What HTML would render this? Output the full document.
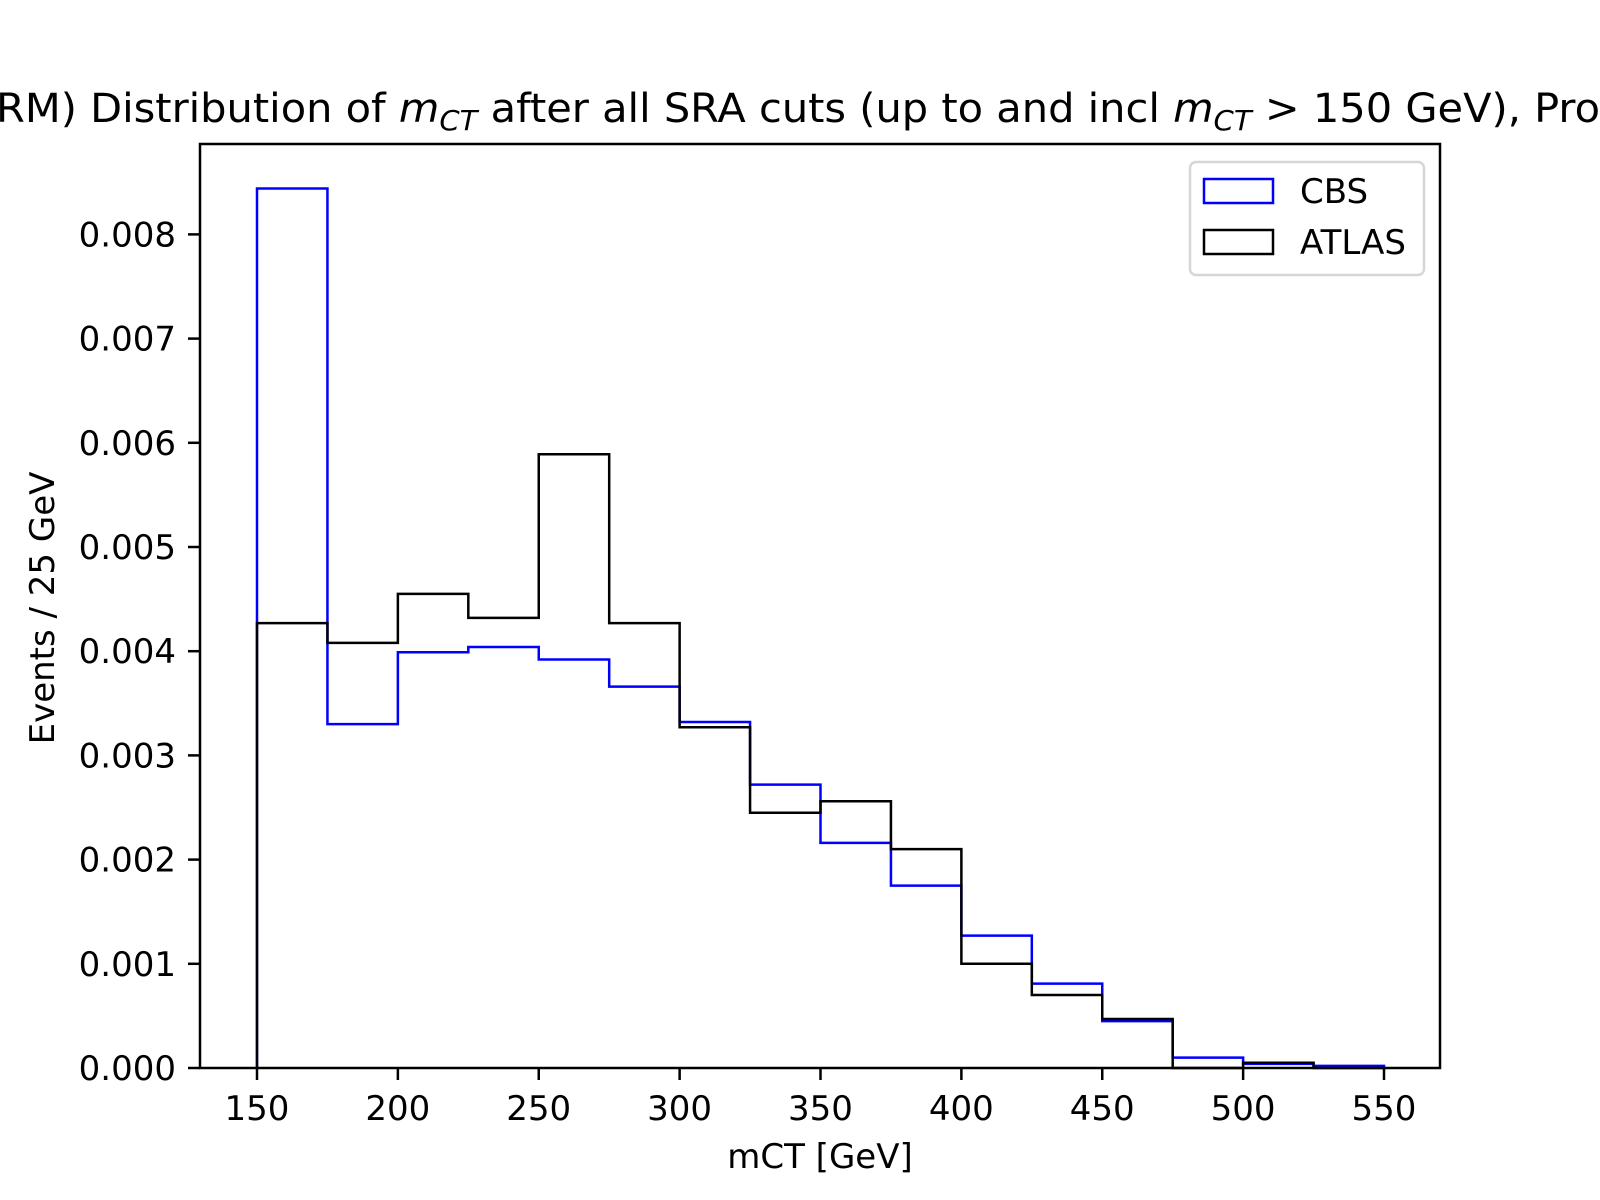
<!DOCTYPE html>
<html><head><meta charset="utf-8"><style>
html,body{margin:0;padding:0;background:#fff;}
svg{display:block;font-family:"DejaVu Sans","Liberation Sans",sans-serif;}
</style></head><body>
<svg id="chart" width="1600" height="1200" viewBox="0 0 1600 1200" xmlns="http://www.w3.org/2000/svg">
<rect width="1600" height="1200" fill="#fff"/>
<text x="-4" y="122" font-size="40" textLength="1604" lengthAdjust="spacingAndGlyphs">RM) Distribution of <tspan font-style="italic">m</tspan><tspan font-style="italic" font-size="28" dy="8">CT</tspan><tspan dy="-8"> after all SRA cuts (up to and incl </tspan><tspan font-style="italic">m</tspan><tspan font-style="italic" font-size="28" dy="8">CT</tspan><tspan dy="-8"> &gt; 150 GeV), Pro</tspan></text>
<g id="ticks"></g>
<g id="series"></g>
<rect x="200" y="144" width="1240" height="924" fill="none" stroke="#000" stroke-width="2.5"/>
<text x="820" y="1168" font-size="34" text-anchor="middle">mCT [GeV]</text>
<text x="0" y="0" font-size="34" text-anchor="middle" transform="translate(54,608) rotate(-90)">Events / 25 GeV</text>
<g>
<rect x="1190" y="162" width="234" height="113" rx="6" fill="#fff" fill-opacity="0.8" stroke="#d6d6d6" stroke-width="2.5"/>
<g>
<rect x="1204" y="179" width="69" height="24" fill="none" stroke="#0000ff" stroke-width="2.5"/>
<text x="1300" y="203" font-size="34">CBS</text>
</g>
<g>
<rect x="1204" y="230" width="69" height="24" fill="none" stroke="#000" stroke-width="2.5"/>
<text x="1300" y="254" font-size="34">ATLAS</text>
</g>
</g>
</svg>
<script>
const binEdges = [150,175,200,225,250,275,300,325,350,375,400,425,450,475,500,525,550];
const cbsValues = [0.00844,0.0033,0.00399,0.00404,0.00392,0.00366,0.00332,0.00272,0.00216,0.00175,0.00127,0.00081,0.00045,0.0001,0.00004,0.00002];
const atlasValues = [0.00427,0.00408,0.00455,0.00432,0.00589,0.00427,0.00327,0.00245,0.00256,0.0021,0.001,0.0007,0.00047,0,0.00005,0];
const xTicks = [150,200,250,300,350,400,450,500,550];
const yTicks = [0,0.001,0.002,0.003,0.004,0.005,0.006,0.007,0.008];

const NS = "http://www.w3.org/2000/svg";
function xs(v){ return 257 + (v-150)*(1384-257)/400; }
function ys(v){ return 1068 - v*104.2/0.001; }

const tg = document.getElementById('ticks');
xTicks.forEach(t=>{
  const l = document.createElementNS(NS,'line');
  
  
  l.setAttribute('x1',xs(t)); l.setAttribute('x2',xs(t));
  l.setAttribute('y1',1068); l.setAttribute('y2',1080);
  l.setAttribute('stroke','#000'); l.setAttribute('stroke-width','2.5');
  tg.appendChild(l);
  const tx = document.createElementNS(NS,'text');
  
  
  tx.setAttribute('x',xs(t)); tx.setAttribute('y',1120);
  tx.setAttribute('font-size','34'); tx.setAttribute('text-anchor','middle');
  tx.textContent = t;
  tg.appendChild(tx);
});
yTicks.forEach(t=>{
  const l = document.createElementNS(NS,'line');
  
  
  l.setAttribute('x1',188); l.setAttribute('x2',200);
  l.setAttribute('y1',ys(t)); l.setAttribute('y2',ys(t));
  l.setAttribute('stroke','#000'); l.setAttribute('stroke-width','2.5');
  tg.appendChild(l);
  const tx = document.createElementNS(NS,'text');
  
  
  tx.setAttribute('x',176); tx.setAttribute('y',ys(t)+12);
  tx.setAttribute('font-size','34'); tx.setAttribute('text-anchor','end');
  tx.textContent = t.toFixed(3);
  tg.appendChild(tx);
});

function stepPath(vals){
  let d = 'M'+xs(binEdges[0])+','+ys(0);
  vals.forEach((v,i)=>{
    d += ' L'+xs(binEdges[i])+','+ys(v)+' L'+xs(binEdges[i+1])+','+ys(v);
  });
  d += ' L'+xs(binEdges[vals.length])+','+ys(0);
  return d;
}
const sg = document.getElementById('series');
const pc = document.createElementNS(NS,'path');


pc.setAttribute('d',stepPath(cbsValues));
pc.setAttribute('fill','none'); pc.setAttribute('stroke','#0000ff'); pc.setAttribute('stroke-width','2.5');
sg.appendChild(pc);
const pa = document.createElementNS(NS,'path');


pa.setAttribute('d',stepPath(atlasValues));
pa.setAttribute('fill','none'); pa.setAttribute('stroke','#000'); pa.setAttribute('stroke-width','2.5');
sg.appendChild(pa);
</script>
</body></html>
